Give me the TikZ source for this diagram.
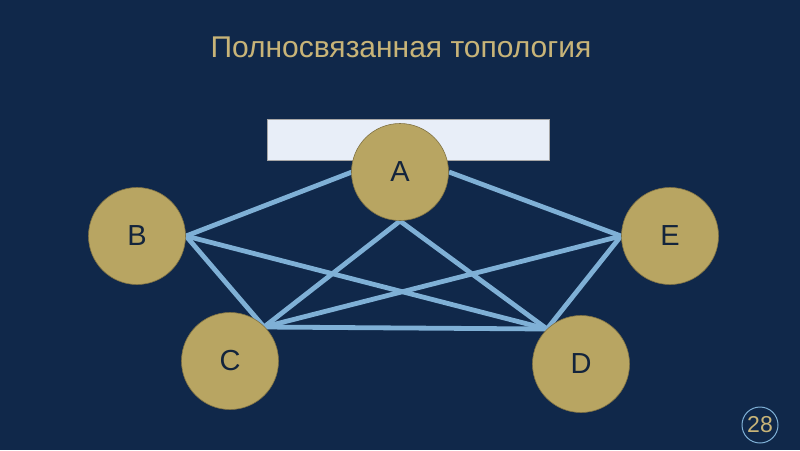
\documentclass[tikz,border=0pt]{standalone}
\usepackage{fontspec}
\setmainfont{Liberation Sans}
\definecolor{bg}{HTML}{10284A}
\definecolor{gold}{HTML}{B8A562}
\definecolor{titlegold}{HTML}{C8B478}
\definecolor{edge}{HTML}{7FB0D6}
\definecolor{rectfill}{HTML}{E8EEF8}
\definecolor{ink}{HTML}{13243C}
\begin{document}
\begin{tikzpicture}[x=1pt,y=-1pt,
  vertex/.style={circle,fill=gold,draw=gold!70!black,line width=0.6pt,minimum size=97pt,inner sep=0pt,text=ink,font=\fontsize{29}{31}\selectfont},
  link/.style={draw=edge,line width=4.8pt}]
\fill[bg] (0,0) rectangle (800,450);
\useasboundingbox (0,0) rectangle (800,450);
\node[text=titlegold,font=\fontsize{30}{34}\selectfont] (title) at (401,47) {Полносвязанная топология};
\node[draw=gray!70,fill=rectfill,line width=0.6pt,minimum width=282pt,minimum height=41pt,inner sep=0pt] (bar) at (408,140) {};
% connection points
\coordinate (Al) at (352,172);
\coordinate (Ar) at (449,172);
\coordinate (Ab) at (400,221);
\coordinate (Br) at (186,236);
\coordinate (El) at (621,236);
\coordinate (Ct) at (264,327);
\coordinate (Dt) at (547,329);
\draw[link] (Al) -- (Br);
\draw[link] (Ar) -- (El);
\draw[link] (Ab) -- (Ct);
\draw[link] (Ab) -- (Dt);
\draw[link] (Br) -- (Ct);
\draw[link] (Br) -- (Dt);
\draw[link] (El) -- (Ct);
\draw[link] (El) -- (Dt);
\draw[link] (Ct) -- (Dt);
\node[vertex] (A) at (400,172) {A};
\node[vertex] (B) at (137,236) {B};
\node[vertex] (E) at (670,236) {E};
\node[vertex] (C) at (230,361) {C};
\node[vertex] (D) at (581,364) {D};
\node[circle,draw=edge,line width=1pt,minimum size=36pt,inner sep=0pt,text=titlegold,font=\fontsize{23}{25}\selectfont] (page) at (760,425) {28};
\end{tikzpicture}
\end{document}
